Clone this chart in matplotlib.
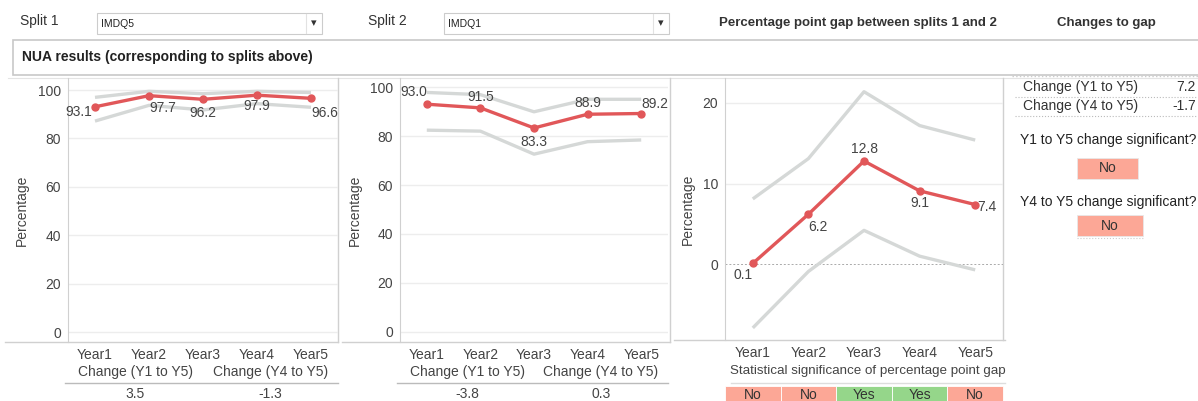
import numpy as np
import matplotlib
matplotlib.use("Agg")
import matplotlib.pyplot as plt
from matplotlib.patches import Rectangle
from matplotlib.transforms import blended_transform_factory

plt.rcParams["font.family"] = ["Liberation Sans", "DejaVu Sans"]

# ── Data ───────────────────────────────────────────────────────────────────────

YEARS = ["Year1", "Year2", "Year3", "Year4", "Year5"]

split1_value = [93.1, 97.7, 96.2, 97.9, 96.6]
split1_upper = [97.0, 99.5, 98.5, 99.5, 99.0]
split1_lower = [87.2, 93.7, 91.8, 94.4, 92.9]
split1_changes = [("Change (Y1 to Y5)", "3.5"), ("Change (Y4 to Y5)", "-1.3")]

split2_value = [93.0, 91.5, 83.3, 88.9, 89.2]
split2_upper = [97.8, 96.9, 89.9, 95.0, 95.0]
split2_lower = [82.4, 82.0, 72.6, 77.7, 78.4]
split2_changes = [("Change (Y1 to Y5)", "-3.8"), ("Change (Y4 to Y5)", "0.3")]

gap_value = [0.1, 6.2, 12.8, 9.1, 7.4]
gap_upper = [8.1, 13.1, 21.4, 17.2, 15.4]
gap_lower = [-7.9, -0.9, 4.2, 1.0, -0.7]
gap_significant = ["No", "No", "Yes", "Yes", "No"]

gap_changes = [("Change (Y1 to Y5)", "7.2"), ("Change (Y4 to Y5)", "-1.7")]
gap_change_significant = [("Y1 to Y5 change significant?", "No"),
                          ("Y4 to Y5 change significant?", "No")]

SPLIT1 = "IMDQ5"
SPLIT2 = "IMDQ1"

# label offsets (pixels) and alignment for each point's value label
split1_label_pos = [(-3, -5, "right"), (0, -12, "left"), (0, -14, "center"),
                    (0, -11, "center"), (0, -15, "left")]
split2_label_pos = [(0, 12, "right"), (0, 11, "center"), (0, -14, "center"),
                    (0, 11, "center"), (0, 10, "left")]
gap_label_pos = [(0, -12, "right"), (0, -13, "left"), (0, 12, "center"),
                 (0, -12, "center"), (2, -2, "left")]

# ── Style ──────────────────────────────────────────────────────────────────────

W, H = 1198, 401
RED = "#E15759"
BAND = "#D5D8D7"
TXT = "#333333"
TICK = "#444444"
GRID = "#EDEDED"
BORDER = "#D0D0D0"
NO_COL = "#FCA796"
YES_COL = "#95D68A"

fig = plt.figure(figsize=(W / 100, H / 100), dpi=100)
fig.patch.set_facecolor("white")

# pixel-space overlay for the dashboard furniture
ov = fig.add_axes([0, 0, 1, 1], zorder=0)
ov.set_xlim(0, W)
ov.set_ylim(H, 0)
ov.axis("off")


def px_axes(x0, y0, x1, y1):
    return fig.add_axes([x0 / W, 1 - y1 / H, (x1 - x0) / W, (y1 - y0) / H], zorder=2)


def line_panel(ax, vals, upper, lower, label_pos, ylim, yticks, fmt="{:.1f}"):
    x = np.arange(len(vals))
    ax.plot(x, upper, color=BAND, lw=2.4, solid_capstyle="butt", zorder=2)
    ax.plot(x, lower, color=BAND, lw=2.4, solid_capstyle="butt", zorder=2)
    ax.plot(x, vals, color=RED, lw=2.4, marker="o", ms=5, zorder=3)
    for xi, v, (dx, dy, ha) in zip(x, vals, label_pos):
        ax.annotate(fmt.format(v), (xi, v), xytext=(dx, dy), textcoords="offset pixels",
                    ha=ha, va="center", fontsize=10, color=TICK, zorder=4)
    ax.set_xlim(-0.5, len(vals) - 0.5)
    ax.set_ylim(*ylim)
    ax.set_yticks(yticks)
    ax.set_xticks(x)
    ax.set_xticklabels(YEARS)
    ax.tick_params(length=0, labelsize=10, labelcolor=TICK, pad=5)
    ax.tick_params(axis="x", pad=4)
    for s in ["top", "right", "bottom"]:
        ax.spines[s].set_visible(False)
    ax.spines["left"].set_color(BORDER)
    ax.grid(axis="y", color=GRID, lw=1)
    ax.set_axisbelow(True)
    ax.set_ylabel("Percentage", fontsize=10, color=TICK)
    ax.set_facecolor("none")


# ── Header ─────────────────────────────────────────────────────────────────────

def dropdown(x0, x1, text):
    ov.add_patch(Rectangle((x0, 13), x1 - x0, 21, fc="white", ec="#CCCCCC", lw=0.8))
    ov.plot([x1 - 16, x1 - 16], [14, 33], color="#E2E2E2", lw=0.8)
    ov.text(x0 + 4, 24, text, fontsize=7.5, color="#222222", va="center")
    ov.text(x1 - 8, 23, "\u25BE", fontsize=8, color="#333333", va="center", ha="center",
            family="DejaVu Sans")


ov.text(20, 21, "Split 1", fontsize=10, color=TXT, va="center")
dropdown(97, 322, SPLIT1)
ov.text(368, 21, "Split 2", fontsize=10, color=TXT, va="center")
dropdown(444, 669, SPLIT2)
ov.text(858, 23, "Percentage point gap between splits 1 and 2", fontsize=9.5,
        fontweight="bold", color=TXT, va="center", ha="center")
ov.text(1106, 23, "Changes to gap", fontsize=9.5, fontweight="bold", color=TXT,
        va="center", ha="center")

ov.add_patch(Rectangle((13, 40), W, 35, fc="white", ec="#C8C8C8", lw=1.2))
ov.text(22, 57, "NUA results (corresponding to splits above)", fontsize=10,
        fontweight="bold", color="#222222", va="center")
ov.plot([8, W], [78, 78], color="#E4E4E4", lw=0.8)

# ── Panels ─────────────────────────────────────────────────────────────────────

ax1 = px_axes(68, 78, 338, 342)
line_panel(ax1, split1_value, split1_upper, split1_lower, split1_label_pos,
           (-4.1, 105), [0, 20, 40, 60, 80, 100])
ax1.yaxis.set_label_coords(-39 / 270, 0.5)

ax2 = px_axes(400, 78, 668, 342)
line_panel(ax2, split2_value, split2_upper, split2_lower, split2_label_pos,
           (-4.1, 103.7), [0, 20, 40, 60, 80, 100])
ax2.yaxis.set_label_coords(-38 / 268, 0.5)

ax3 = px_axes(725, 78, 1003, 340)
line_panel(ax3, gap_value, gap_upper, gap_lower, gap_label_pos,
           (-9.4, 23.1), [0, 10, 20])
ax3.yaxis.grid(False)
for g in [10, 20]:
    ax3.axhline(g, color=GRID, lw=1, zorder=0)
ax3.axhline(0, color="#AAAAAA", lw=0.7, ls=(0, (2, 2)), zorder=1)
ax3.yaxis.set_label_coords(-30 / 278, 0.5)

# pane borders
ov.plot([5, 338], [342, 342], color=BORDER, lw=1)
ov.plot([342, 670], [342, 342], color=BORDER, lw=1)
ov.plot([674, 1005], [340, 340], color=BORDER, lw=1)
ov.plot([338, 338], [78, 342], color=BORDER, lw=1)
ov.plot([670, 670], [78, 342], color=BORDER, lw=1)
ov.plot([1003, 1003], [78, 340], color=BORDER, lw=1)


# change-summary rows under the split charts
def change_rows(ax, x0, x1, changes):
    mid = (x0 + x1) / 2
    centres = [(x0 + mid) / 2, (mid + x1) / 2]
    for c, (lab, val) in zip(centres, changes):
        ov.text(c, 372, lab, fontsize=10, color=TICK, ha="center", va="center")
        ov.text(c, 394, val, fontsize=10, color=TICK, ha="center", va="center")
    ov.plot([x0 - 3, x1], [383, 383], color="#BBBBBB", lw=1)


change_rows(ax1, 68, 338, split1_changes)
change_rows(ax2, 400, 668, split2_changes)

# significance strip under the gap chart
ov.text(868, 371, "Statistical significance of percentage point gap", fontsize=9.6,
        color=TICK, ha="center", va="center")
ov.plot([731, 1005], [383, 383], color="#DDDDDD", lw=1)
strip = blended_transform_factory(ax3.transData, ov.transData)
for i, sig in enumerate(gap_significant):
    col = YES_COL if sig == "Yes" else NO_COL
    ov.add_patch(Rectangle((i - 0.5, 386), 1, 20, fc=col, ec="white", lw=0.6,
                           transform=strip, clip_on=False))
    ov.text(i, 395, sig, fontsize=10, color=TXT, ha="center", va="center",
            transform=strip)

# ── Changes to gap ─────────────────────────────────────────────────────────────

ov.plot([1012, W], [76, 76], color="#CCCCCC", lw=1, ls=":")
for k, (lab, val) in enumerate(gap_changes):
    y = 87 + k * 19
    ov.text(1023, y, lab, fontsize=10, color=TXT, va="center")
    ov.text(1196, y, val, fontsize=10, color=TXT, va="center", ha="right")
    ov.plot([1015, W], [y + 10, y + 10], color="#BBBBBB", lw=0.8, ls=":")

question_y = [140, 202]
box_top = [158, 215]
box_w = [61, 66]
for (q, ans), qy, by, bw in zip(gap_change_significant, question_y, box_top, box_w):
    ov.text(1108, qy, q, fontsize=10, color="#222222", ha="center", va="center")
    col = YES_COL if ans == "Yes" else NO_COL
    ov.add_patch(Rectangle((1077, by), bw, 21, fc=col, ec="#E8E8E8", lw=0.6))
    ov.text(1077 + bw / 2, by + 10.5, ans, fontsize=10, color=TXT, ha="center", va="center")
ov.plot([1077, 1143], [238, 238], color="#CCCCCC", lw=0.8, ls=":")

fig.savefig("out.png", dpi=100)
